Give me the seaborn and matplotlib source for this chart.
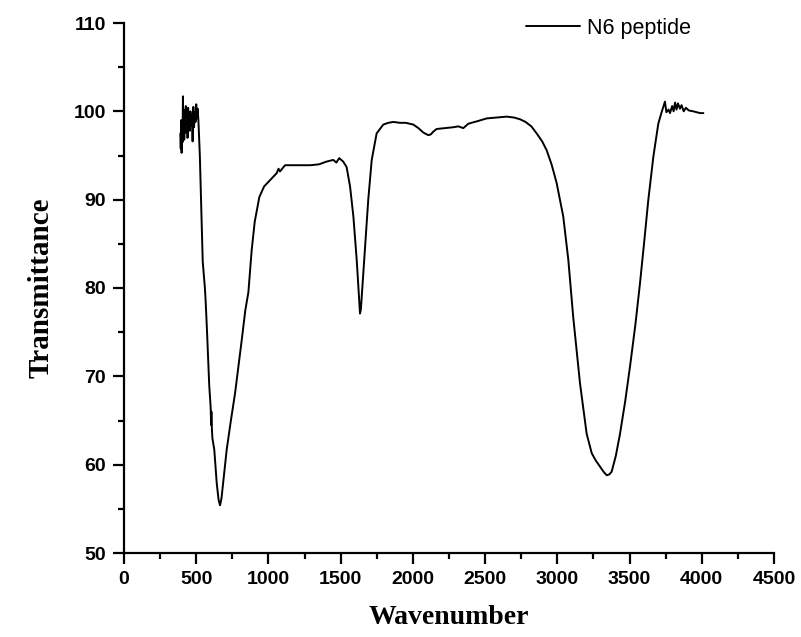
import numpy as np
import pandas as pd
import matplotlib
matplotlib.use("Agg")
import matplotlib.pyplot as plt
from matplotlib.ticker import MultipleLocator
import seaborn as sns

wavenumber = [390, 393, 396, 399, 402, 405, 408, 411, 414, 417, 420, 424, 428, 432, 436, 440,
              444, 448, 452, 456, 460, 465, 470, 475, 480, 485, 490, 495, 500, 505, 510, 515,
              525, 535, 545, 560, 565, 575, 590, 600, 603, 605, 608, 612, 625, 642, 655, 665,
              675, 690, 711, 740, 769, 790, 815, 840, 861, 884, 905, 937, 970, 1011, 1057, 1070,
              1080, 1115, 1200, 1290, 1350, 1400, 1449, 1470, 1490, 1518, 1541, 1565, 1588, 1611,
              1634, 1640, 1652, 1668, 1691, 1715, 1749, 1795, 1830, 1864, 1911, 1950, 2003, 2038,
              2072, 2107, 2125, 2141, 2164, 2220, 2280, 2314, 2349, 2384, 2450, 2511, 2580, 2649,
              2700, 2742, 2780, 2820, 2857, 2895, 2926, 2960, 2995, 3041, 3076, 3110, 3157, 3203, 3238, 3265,
              3295, 3320, 3342, 3360, 3376, 3405, 3434, 3470, 3503, 3540, 3572, 3600, 3630, 3665,
              3699, 3720, 3745, 3755, 3770, 3780, 3795, 3805, 3815, 3825, 3835, 3849, 3860, 3875,
              3890, 3910, 3941, 3965, 3988, 4011]
transmittance = [97.5, 95.8, 99.0, 95.3, 98.5, 96.5, 101.7, 97.2, 100.2, 96.8, 99.5, 97.6, 100.6, 98.0, 99.8, 97.0,
                 100.4, 98.6, 99.3, 97.8, 100.0, 98.4, 99.6, 96.6, 100.5, 98.2, 99.9, 98.8, 100.8, 99.2, 100.3, 99.0,
                 95.0, 89.0, 83.0, 80.0, 78.6, 75.0, 69.0, 66.5, 64.5, 66.0, 64.2, 63.0, 61.7, 57.9, 56.0, 55.4,
                 56.2, 58.5, 61.7, 65.0, 68.1, 70.8, 74.1, 77.5, 79.5, 84.3, 87.5, 90.3, 91.5, 92.2, 93.0, 93.5,
                 93.2, 93.9, 93.9, 93.9, 94.0, 94.3, 94.5, 94.2, 94.7, 94.3, 93.7, 91.5, 88.1, 83.2,
                 77.1, 77.6, 80.5, 84.3, 90.0, 94.5, 97.5, 98.5, 98.7, 98.8, 98.7, 98.7, 98.5, 98.1,
                 97.6, 97.3, 97.4, 97.7, 98.0, 98.1, 98.2, 98.3, 98.1, 98.6, 98.9, 99.2, 99.3, 99.4,
                 99.3, 99.1, 98.8, 98.3, 97.5, 96.6, 95.6, 94.0, 91.9, 88.1, 83.2, 76.7, 69.2, 63.5, 61.3, 60.5,
                 59.8, 59.2, 58.8, 58.9, 59.2, 61.0, 63.5, 67.2, 71.1, 75.8, 80.5, 85.0, 90.0, 94.9,
                 98.6, 99.8, 101.1, 99.9, 100.2, 99.8, 100.6, 100.0, 101.0, 100.2, 100.9, 100.3, 100.7, 100.0,
                 100.4, 100.1, 100.0, 99.9, 99.8, 99.8]
series_name = "N6 peptide"
x_ticks = [0, 500, 1000, 1500, 2000, 2500, 3000, 3500, 4000, 4500]
y_ticks = [50, 60, 70, 80, 90, 100, 110]

df = pd.DataFrame({"Wavenumber": wavenumber, "Transmittance": transmittance})

sns.set_style("ticks")
plt.rcParams['font.family'] = ['Liberation Sans', 'DejaVu Sans']
plt.rcParams.update({"text.color": "black", "axes.labelcolor": "black",
                     "xtick.color": "black", "ytick.color": "black",
                     "axes.edgecolor": "black"})

fig = plt.figure(figsize=(8.01, 6.37), dpi=100)
ax = fig.add_axes([124/801, 1-553/637, 650/801, 530/637])

sns.lineplot(data=df, x="Wavenumber", y="Transmittance", ax=ax, color="black",
             linewidth=1.4, label=series_name, sort=False)

ax.set_xlim(0, 4500)
ax.set_ylim(50, 110)
ax.set_xticks(x_ticks)
ax.set_yticks(y_ticks)
ax.xaxis.set_minor_locator(MultipleLocator(250))
ax.yaxis.set_minor_locator(MultipleLocator(5))
sns.despine(ax=ax)
for s in ["left", "bottom"]:
    ax.spines[s].set_linewidth(1.6)
    ax.spines[s].set_color("black")
ax.tick_params(which="major", direction="out", length=8, width=1.6, pad=5, colors="black")
ax.tick_params(which="minor", direction="out", length=4.5, width=1.6, colors="black")
for lab in ax.get_xticklabels() + ax.get_yticklabels():
    lab.set_fontfamily("Liberation Sans")
    lab.set_fontweight("bold")
    lab.set_fontsize(14)
    lab.set_color("black")

ax.set_xlabel("Wavenumber", family="Liberation Serif", fontweight="bold", fontsize=20,
              labelpad=12, color="black")
ax.set_ylabel("Transmittance", family="Liberation Serif", fontweight="bold", fontsize=21,
              labelpad=14, color="black")

leg = ax.legend(loc="upper left", bbox_to_anchor=(0.618, 1.01), frameon=False,
                prop={"family": "Liberation Sans", "size": 15.5},
                handlelength=2.5, handletextpad=0.35, borderpad=0, borderaxespad=0,
                labelcolor="black")
for h in leg.get_lines():
    h.set_linewidth(1.4)

fig.savefig("out.png", dpi=100)
